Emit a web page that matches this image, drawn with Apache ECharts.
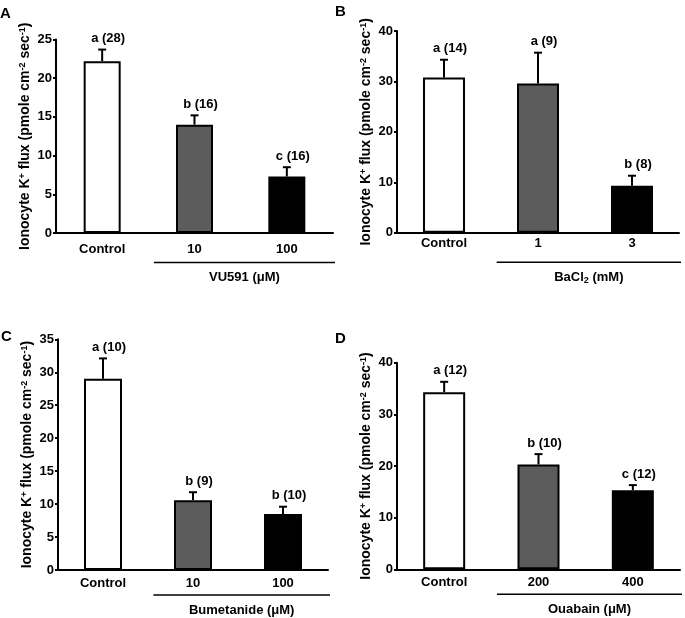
<!DOCTYPE html>
<html>
<head>
<meta charset="utf-8">
<script src="https://cdn.jsdelivr.net/npm/echarts@6/dist/echarts.min.js"></script>
<style>html,body{margin:0;padding:0;background:#fff}#c{width:685px;height:618px}</style>
</head>
<body>
<div id="c"></div>
<script>
// ---------- DATA ----------
const panelLetters = ['A', 'B', 'C', 'D'];

const categoriesA = ['Control', '10', '100'];
const meansA = [22.2, 14.0, 7.3];
const errorsA = [1.5, 1.2, 1.2];
const sigA = ['a (28)', 'b (16)', 'c (16)'];
const groupA = 'VU591 (μM)';

const categoriesB = ['Control', '1', '3'];
const meansB = [30.8, 29.6, 9.3];
const errorsB = [3.5, 6.1, 2.0];
const sigB = ['a (14)', 'a (9)', 'b (8)'];
const groupB = '{t|BaCl}{s|2}{t| (mM)}';

const categoriesC = ['Control', '10', '100'];
const meansC = [29.0, 10.6, 8.5];
const errorsC = [3.1, 1.2, 1.1];
const sigC = ['a (10)', 'b (9)', 'b (10)'];
const groupC = 'Bumetanide (μM)';

const categoriesD = ['Control', '200', '400'];
const meansD = [34.3, 20.3, 15.3];
const errorsD = [2.0, 2.0, 1.0];
const sigD = ['a (12)', 'b (10)', 'c (12)'];
const groupD = 'Ouabain (μM)';

const yMax = [25, 40, 35, 40];
const yInterval = [5, 10, 5, 10];
const barFills = ['#ffffff', '#5c5c5c', '#000000'];
const yTitle = '{t|Ionocyte K}{s|+}{t| flux (pmole cm}{s|-2}{t| sec}{s|-1}{t|)}';

// ---------- LAYOUT ----------
const FONT = '"Liberation Sans", Arial, sans-serif';
const grids = [
  {left: 56, top: 39.5, width: 277, height: 193.5},
  {left: 397, top: 31, width: 282, height: 201.7},
  {left: 58, top: 339.3, width: 270, height: 230.7},
  {left: 397, top: 362.7, width: 283, height: 206.6}
];
const labelMargins = [10, 4, 7, 7];
const barWidths = [37, 42, 38, 42];
const letterPos = [[0, 6], [335, 4], [1, 329], [335, 331]];

const panels = [
  {cats: categoriesA, means: meansA, errs: errorsA, sig: sigA, group: groupA},
  {cats: categoriesB, means: meansB, errs: errorsB, sig: sigB, group: groupB},
  {cats: categoriesC, means: meansC, errs: errorsC, sig: sigC, group: groupC},
  {cats: categoriesD, means: meansD, errs: errorsD, sig: sigD, group: groupD}
];

const richStyles = {
  t: {fontSize: 14, fontWeight: 'bold', fontFamily: FONT, color: '#000', lineHeight: 16},
  s: {fontSize: 9, fontWeight: 'bold', fontFamily: FONT, color: '#000', verticalAlign: 'top', lineHeight: 16, padding: [0, 0, 7, 0]}
};
const groupRich = {
  t: {fontSize: 13, fontWeight: 'bold', fontFamily: FONT, color: '#000', lineHeight: 16},
  s: {fontSize: 9, fontWeight: 'bold', fontFamily: FONT, color: '#000', verticalAlign: 'bottom', lineHeight: 16, padding: [6, 0, 0, 0]}
};

const option = {
  animation: false,
  backgroundColor: '#fff',
  title: panelLetters.map((L, i) => ({
    text: L, left: letterPos[i][0], top: letterPos[i][1], padding: 0,
    textStyle: {fontSize: 15, fontWeight: 'bold', fontFamily: FONT, color: '#000'}
  })),
  grid: grids,
  xAxis: panels.map((p, i) => ({
    type: 'category', gridIndex: i, data: p.cats,
    axisLine: {lineStyle: {color: '#000', width: 2}},
    axisTick: {show: false},
    axisLabel: {color: '#000', fontSize: 13, fontWeight: 'bold', fontFamily: FONT, margin: labelMargins[i]}
  })),
  yAxis: panels.map((p, i) => ({
    type: 'value', gridIndex: i, min: 0, max: yMax[i], interval: yInterval[i],
    splitLine: {show: false},
    axisLine: {show: true, lineStyle: {color: '#000', width: 2}},
    axisTick: {show: true, length: 3, lineStyle: {color: '#000', width: 2}},
    axisLabel: {color: '#000', fontSize: 13, fontWeight: 'bold', fontFamily: FONT, margin: 4},
    name: yTitle, nameLocation: 'middle', nameRotate: 90, nameGap: 19,
    nameTextStyle: {rich: richStyles, padding: [0, 0, 0, 0]}
  })),
  series: []
};

panels.forEach((p, i) => {
  option.series.push({
    type: 'bar', xAxisIndex: i, yAxisIndex: i, barWidth: barWidths[i], z: 2,
    data: p.means.map((v, k) => ({value: v, itemStyle: {color: barFills[k], borderColor: '#000', borderWidth: 2}}))
  });
  option.series.push({
    type: 'custom', xAxisIndex: i, yAxisIndex: i, z: 3, clip: false,
    data: p.means.map((v, k) => [k, v, p.errs[k]]),
    renderItem: function (params, api) {
      const k = api.value(0), v = api.value(1), e = api.value(2);
      const base = api.coord([k, v]);
      const top = api.coord([k, v + e]);
      const cap = 4;
      return {
        type: 'group',
        children: [
          {type: 'line', shape: {x1: base[0], y1: base[1], x2: top[0], y2: top[1]}, style: {stroke: '#000', lineWidth: 2}},
          {type: 'line', shape: {x1: top[0] - cap, y1: top[1], x2: top[0] + cap, y2: top[1]}, style: {stroke: '#000', lineWidth: 2}},
          {type: 'text', x: top[0] + 6, y: top[1] - 11,
           style: {text: p.sig[params.dataIndex], fontSize: 13, fontWeight: 'bold', fontFamily: FONT, fill: '#000', align: 'center', verticalAlign: 'middle'}}
        ]
      };
    }
  });
  option.series.push({
    type: 'custom', xAxisIndex: i, yAxisIndex: i, z: 3, clip: false,
    data: [[1, 0]],
    renderItem: function (params, api) {
      const band = api.size([1, 0])[0];
      const c1 = api.coord([1, 0]);
      const c2 = api.coord([2, 0]);
      const x1 = c1[0] - band * 0.44;
      const x2 = c2[0] + band * 0.5 + 2;
      const y = c1[1] + (i < 2 ? 29.5 : 25);
      return {
        type: 'group',
        children: [
          {type: 'line', shape: {x1: x1, y1: y, x2: x2, y2: y}, style: {stroke: '#000', lineWidth: 1.5}},
          {type: 'text', x: (x1 + x2) / 2, y: y + 15,
           style: {text: p.group, rich: groupRich, fontSize: 13, fontWeight: 'bold', fontFamily: FONT, fill: '#000', align: 'center', verticalAlign: 'middle'}}
        ]
      };
    }
  });
});

const chart = echarts.init(document.getElementById('c'), null, {renderer: 'canvas'});
chart.setOption(option);
</script>
</body>
</html>
